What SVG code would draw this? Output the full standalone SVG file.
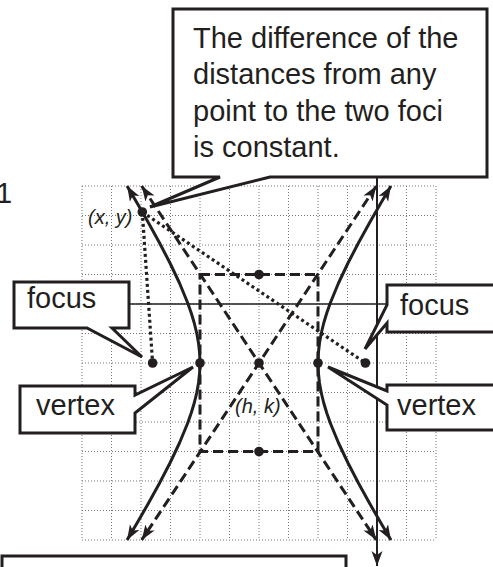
<svg xmlns="http://www.w3.org/2000/svg" width="493" height="567" viewBox="0 0 493 567">
<style>
text{font-family:"Liberation Sans",Arial,sans-serif;fill:#231f20}
.lbl{font-size:29px}
.it{font-size:20px;font-style:italic}
.grid line{stroke:#777;stroke-width:1;stroke-dasharray:1 2}
.box{fill:#fff;stroke:#231f20;stroke-width:3;stroke-linejoin:miter}
.hyp{fill:none;stroke:#231f20;stroke-width:3;stroke-linejoin:round}
.dash{fill:none;stroke:#231f20;stroke-width:3;stroke-dasharray:10 5}
.dot{fill:none;stroke:#231f20;stroke-width:3.2;stroke-dasharray:3 3}
.pt{fill:#231f20}
.axis{stroke:#231f20}
</style>
<defs>
<marker id="ah" markerUnits="userSpaceOnUse" viewBox="-15 -6 16 12" refX="0" refY="0" markerWidth="16" markerHeight="12" orient="auto-start-reverse">
<path d="M0,0 L-15,-5.5 L-11,0 L-15,5.5 Z" fill="#231f20"/>
</marker>
</defs>
<text class="lbl" x="-4" y="203" font-size="28">1</text>
<g id="grid" class="grid">
<line x1="82" y1="186" x2="82" y2="540"/><line x1="111.5" y1="186" x2="111.5" y2="540"/><line x1="141" y1="186" x2="141" y2="540"/><line x1="170.5" y1="186" x2="170.5" y2="540"/><line x1="200" y1="186" x2="200" y2="540"/><line x1="229.5" y1="186" x2="229.5" y2="540"/><line x1="259" y1="186" x2="259" y2="540"/><line x1="288.5" y1="186" x2="288.5" y2="540"/><line x1="318" y1="186" x2="318" y2="540"/><line x1="347.5" y1="186" x2="347.5" y2="540"/><line x1="377" y1="186" x2="377" y2="540"/><line x1="406.5" y1="186" x2="406.5" y2="540"/><line x1="436" y1="186" x2="436" y2="540"/>
<line x1="82" y1="186" x2="436" y2="186"/><line x1="82" y1="215.5" x2="436" y2="215.5"/><line x1="82" y1="245" x2="436" y2="245"/><line x1="82" y1="274.5" x2="436" y2="274.5"/><line x1="82" y1="304" x2="436" y2="304"/><line x1="82" y1="333.5" x2="436" y2="333.5"/><line x1="82" y1="363" x2="436" y2="363"/><line x1="82" y1="392.5" x2="436" y2="392.5"/><line x1="82" y1="422" x2="436" y2="422"/><line x1="82" y1="451.5" x2="436" y2="451.5"/><line x1="82" y1="481" x2="436" y2="481"/><line x1="82" y1="510.5" x2="436" y2="510.5"/><line x1="82" y1="540" x2="436" y2="540"/>
</g>
<g id="axes">
<line class="axis" x1="100" y1="304" x2="493" y2="304" stroke-width="1.6"/>
<line class="axis" x1="377" y1="170" x2="377" y2="566" stroke-width="2" marker-end="url(#ah)"/>
</g>
<g id="connectors">
<path id="branch-left" class="hyp" marker-start="url(#ah)" marker-end="url(#ah)" d="M127.07,186 L137.10,203 L148.58,223 L159.60,243 L169.97,263 L179.47,283 L187.72,303 L191.23,313 L194.25,323 L196.70,333 L198.51,343 L199.62,353 L200,363 L199.62,373 L198.51,383 L196.70,393 L194.25,403 L191.23,413 L187.72,423 L179.47,443 L169.97,463 L159.60,483 L148.58,503 L137.10,523 L127.07,540"/>
<path id="branch-right" class="hyp" marker-start="url(#ah)" marker-end="url(#ah)" d="M390.93,186 L380.90,203 L369.42,223 L358.40,243 L348.03,263 L338.53,283 L330.28,303 L326.77,313 L323.75,323 L321.30,333 L319.49,343 L318.38,353 L318,363 L318.38,373 L319.49,383 L321.30,393 L323.75,403 L326.77,413 L330.28,423 L338.53,443 L348.03,463 L358.40,483 L369.42,503 L380.90,523 L390.93,540"/>
<line id="asym1" class="dash" x1="141.7" y1="186" x2="376.3" y2="540" marker-start="url(#ah)" marker-end="url(#ah)"/>
<line id="asym2" class="dash" x1="376.3" y1="186" x2="141.7" y2="540" marker-start="url(#ah)" marker-end="url(#ah)"/>
<rect id="central-box" class="dash" x="200" y="274.5" width="118" height="177"/>
<line class="dot" x1="142.3" y1="212" x2="152.6" y2="363"/>
<line class="dot" x1="142.3" y1="212" x2="365.4" y2="363"/>
</g>
<g id="points">
<circle class="pt" cx="142.3" cy="212" r="4.8"/>
<circle class="pt" cx="152.6" cy="363" r="4.8"/>
<circle class="pt" cx="365.4" cy="363" r="4.8"/>
<circle class="pt" cx="200" cy="363" r="4.8"/>
<circle class="pt" cx="318" cy="363" r="4.8"/>
<circle class="pt" cx="259" cy="363" r="4.8"/>
<circle class="pt" cx="259" cy="274.5" r="4.8"/>
<circle class="pt" cx="259" cy="451.5" r="4.8"/>
<text class="it" x="88" y="224">(x, y)</text>
<text class="it" x="235" y="413">(h, k)</text>
</g>
<g id="callout-top">
<path class="box" d="M173,9 H487 V177 H270 L150,207 L220,177 H173 Z"/>
<text class="lbl" x="193" y="48">The difference of the</text>
<text class="lbl" x="193" y="84.3">distances from any</text>
<text class="lbl" x="193" y="120.7">point to the two foci</text>
<text class="lbl" x="193" y="157">is constant.</text>
</g>
<g id="callout-focus-left">
<path class="box" d="M14,282 H129 V328 H112 L142,357 L87,328 H14 Z"/>
<text class="lbl" x="27" y="308">focus</text>
</g>
<g id="callout-vertex-left">
<path class="box" d="M20,386 H135 V395 L193,367 L135,413 V433 H20 Z"/>
<text class="lbl" x="36" y="415">vertex</text>
</g>
<g id="callout-focus-right">
<path class="box" d="M387,285 H500 V332 H387 V323 L365,349 L387,305 Z"/>
<text class="lbl" x="400" y="315">focus</text>
</g>
<g id="callout-vertex-right">
<path class="box" d="M387,385 H500 V430 H387 V405 L328,367 L387,391 Z"/>
<text class="lbl" x="397" y="415">vertex</text>
</g>
<g id="callout-bottom">
<path class="box" d="M2,575 V556 H346 V575"/>
</g>
</svg>
